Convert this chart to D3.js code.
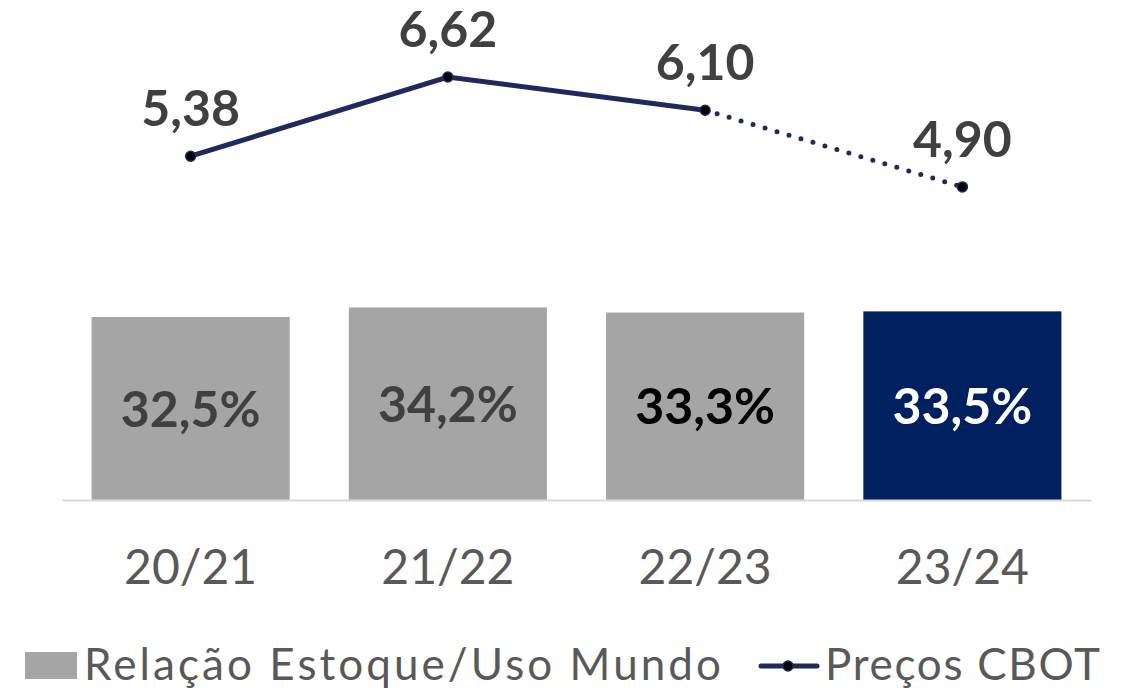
<!DOCTYPE html>
<meta charset="utf-8">
<html>
<head>
    <style>
        body { margin: 0; background: #fff; }
        text { font-family: "Lato", sans-serif; }
    </style>
</head>
<body>
<script src="https://d3js.org/d3.v7.min.js"></script>
<script>
    // chart data
    var seasons = ["20/21", "21/22", "22/23", "23/24"];
    var stockRatio = [32.5, 34.2, 33.3, 33.5];
    var stockLabels = ["32,5%", "34,2%", "33,3%", "33,5%"];
    var cbotPrices = [5.38, 6.62, 6.10, 4.90];
    var priceLabels = ["5,38", "6,62", "6,10", "4,90"];
    var legendNames = ["Relação Estoque/Uso Mundo", "Preços CBOT"];

    var width = 1133, height = 688, baseY = 500;
    var grey = "#a5a5a5", navy = "#002060", lineColor = "#1f2a5c";
    var barFill = [grey, grey, grey, navy];
    var barText = ["#404040", "#404040", "#000000", "#ffffff"];

    var svg = d3.select("body").append("svg")
        .attr("width", width)
        .attr("height", height);

    var x = d3.scaleBand().domain(seasons).range([62, 1091]).paddingInner(0.23).paddingOuter(0.115);
    var yBar = d3.scaleLinear().domain([0, 88.8]).range([baseY, 0]);
    var yLine = d3.scaleLinear().domain([0, 7.825]).range([baseY, 0]);

    // bars
    svg.selectAll(".bar")
        .data(stockRatio)
        .enter().append("rect")
        .attr("class", "bar")
        .attr("x", function(d, i) { return x(seasons[i]); })
        .attr("y", function(d) { return yBar(d); })
        .attr("width", x.bandwidth())
        .attr("height", function(d) { return baseY - yBar(d); })
        .style("fill", function(d, i) { return barFill[i]; });

    svg.selectAll(".barlabel")
        .data(stockRatio)
        .enter().append("text")
        .attr("class", "barlabel")
        .attr("x", function(d, i) { return x(seasons[i]) + x.bandwidth() / 2; })
        .attr("y", function(d) { return (yBar(d) + baseY) / 2; })
        .attr("dy", "0.36em")
        .attr("text-anchor", "middle")
        .style("font-size", "50px")
        .style("font-weight", "bold")
        .style("fill", function(d, i) { return barText[i]; })
        .text(function(d, i) { return stockLabels[i]; });

    // axis
    var xAxis = svg.append("g")
        .attr("transform", "translate(0," + baseY + ")")
        .call(d3.axisBottom(x).tickSize(0).tickPadding(50));
    xAxis.select(".domain").attr("stroke", "#d9d9d9").attr("stroke-width", 2);
    xAxis.selectAll("text")
        .style("font-family", "Lato")
        .style("font-size", "48px")
        .attr("fill", "#595959");

    // price line: solid part then dotted projection
    var cx = function(i) { return x(seasons[i]) + x.bandwidth() / 2; };
    var line = d3.line()
        .x(function(d) { return cx(d.i); })
        .y(function(d) { return yLine(d.v); });
    var pts = cbotPrices.map(function(v, i) { return { v: v, i: i }; });

    svg.append("path")
        .datum(pts.slice(0, 3))
        .attr("d", line)
        .attr("fill", "none")
        .attr("stroke", lineColor)
        .attr("stroke-width", 5);

    svg.append("path")
        .datum(pts.slice(2))
        .attr("d", line)
        .attr("fill", "none")
        .attr("stroke", lineColor)
        .attr("stroke-width", 5)
        .attr("stroke-linecap", "round")
        .attr("stroke-dasharray", "0 12.5");

    svg.selectAll(".dot")
        .data(pts)
        .enter().append("circle")
        .attr("cx", function(d) { return cx(d.i); })
        .attr("cy", function(d) { return yLine(d.v); })
        .attr("r", 5)
        .attr("fill", "#000")
        .attr("stroke", lineColor)
        .attr("stroke-width", 1.5);

    svg.selectAll(".pricelabel")
        .data(pts)
        .enter().append("text")
        .attr("x", function(d) { return cx(d.i); })
        .attr("y", function(d) { return yLine(d.v) - 30; })
        .attr("text-anchor", "middle")
        .style("font-size", "50px")
        .style("font-weight", "bold")
        .style("fill", "#404040")
        .text(function(d) { return priceLabels[d.i]; });

    // legend
    var legend = svg.append("g");
    legend.append("rect")
        .attr("x", 25).attr("y", 652).attr("width", 52).attr("height", 27)
        .style("fill", grey);
    legend.append("text")
        .attr("x", 84).attr("y", 680)
        .attr("textLength", 637)
        .attr("lengthAdjust", "spacing")
        .style("font-size", "44px")
        .style("fill", "#595959")
        .text(legendNames[0]);
    legend.append("line")
        .attr("x1", 761).attr("x2", 817).attr("y1", 666).attr("y2", 666)
        .attr("stroke", lineColor).attr("stroke-width", 5).attr("stroke-linecap", "round");
    legend.append("circle")
        .attr("cx", 788).attr("cy", 666).attr("r", 5)
        .attr("fill", "#000").attr("stroke", lineColor).attr("stroke-width", 1.5);
    legend.append("text")
        .attr("x", 825).attr("y", 680)
        .attr("textLength", 275)
        .attr("lengthAdjust", "spacing")
        .style("font-size", "44px")
        .style("fill", "#595959")
        .text(legendNames[1]);
</script>
</body>
</html>
